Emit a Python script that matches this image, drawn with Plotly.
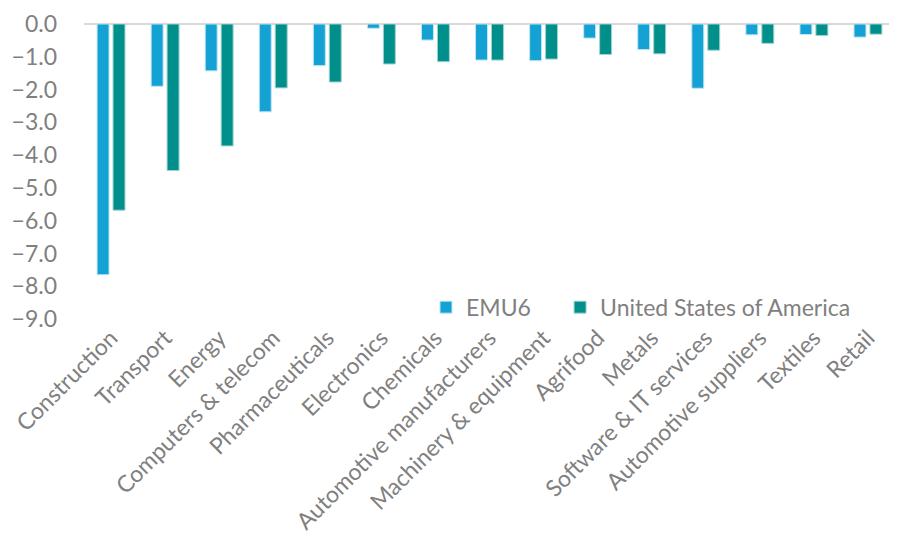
import plotly.graph_objects as go

categories = ["Construction", "Transport", "Energy", "Computers & telecom", "Pharmaceuticals",
              "Electronics", "Chemicals", "Automotive manufacturers", "Machinery & equipment",
              "Agrifood", "Metals", "Software & IT services", "Automotive suppliers", "Textiles", "Retail"]
emu6 = [-7.65, -1.9, -1.43, -2.68, -1.27, -0.13, -0.49, -1.10, -1.12, -0.43, -0.78, -1.96, -0.33, -0.32, -0.40]
usa = [-5.68, -4.47, -3.72, -1.95, -1.77, -1.22, -1.15, -1.10, -1.07, -0.93, -0.91, -0.80, -0.59, -0.35, -0.31]
y_ticks = [0, -1, -2, -3, -4, -5, -6, -7, -8, -9]

FONT = "Lato"
GRAY = "#808080"

fig = go.Figure()
fig.add_trace(go.Bar(x=categories, y=emu6, name="EMU6", legend="legend",
                     marker=dict(color="#14A1D4", line=dict(color="#BFE6F3", width=1))))
fig.add_trace(go.Bar(x=categories, y=usa, name="United States of America", legend="legend2",
                     marker=dict(color="#008F8A", line=dict(color="#9FD3D0", width=1))))

leg_common = dict(orientation="h", y=0.04, xanchor="left", yanchor="middle",
                  font=dict(family=FONT, size=23, color=GRAY), bgcolor="rgba(0,0,0,0)")

fig.update_layout(
    width=897, height=544,
    margin=dict(l=76, r=10, t=16, b=233),
    paper_bgcolor="white", plot_bgcolor="white",
    barmode="group", bargap=0.41, bargroupgap=0.25,
    font=dict(family=FONT, color=GRAY),
    showlegend=True,
    legend=dict(x=0.4217, **leg_common),
    legend2=dict(x=0.587, **leg_common),
)
fig.update_xaxes(tickangle=-45, tickfont=dict(family=FONT, size=23, color=GRAY),
                 showgrid=False, showline=False, ticks="", automargin=False)
fig.update_yaxes(range=[-9, 0], tickvals=y_ticks, tickformat=".1f",
                 tickfont=dict(family=FONT, size=23, color=GRAY),
                 showgrid=False, showline=False, zeroline=True, zerolinecolor="#D9D9D9", zerolinewidth=2,
                 ticks="", ticklabelstandoff=26, automargin=False)

fig.write_html("out.html")
